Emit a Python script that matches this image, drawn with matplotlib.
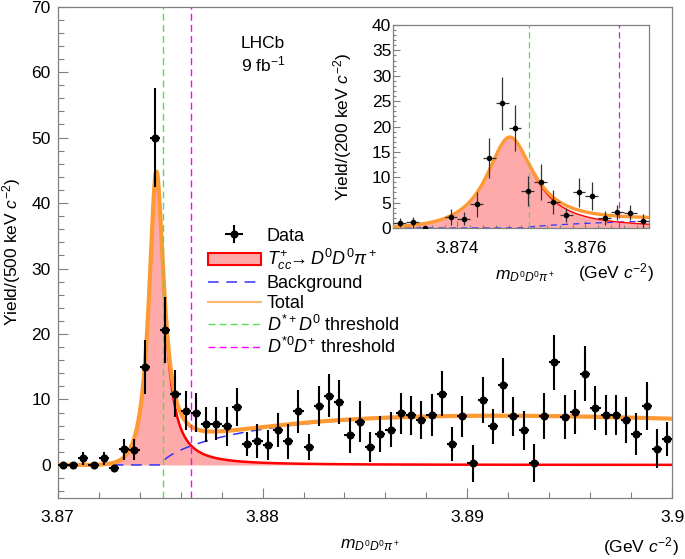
import numpy as np
import matplotlib
matplotlib.use("Agg")
import matplotlib.pyplot as plt
from matplotlib.ticker import MultipleLocator, FixedLocator, FixedFormatter
from matplotlib.patches import Patch
from matplotlib.lines import Line2D

plt.rcParams['font.family'] = ['Liberation Sans', 'DejaVu Sans']
plt.rcParams['mathtext.fontset'] = 'custom'
plt.rcParams['mathtext.rm'] = 'Liberation Sans'
plt.rcParams['mathtext.it'] = 'Liberation Sans:italic'
plt.rcParams['mathtext.bf'] = 'Liberation Sans:bold'
plt.rcParams['font.size'] = 12.5

# ---------------- data ----------------
main_range = (3.870, 3.900)          # GeV, 500 keV bins
main_bin_width = 0.0005
main_yield = [0.0, 0.0, 1.0, 0.0, 1.0, -0.4, 2.4, 2.3, 15.0, 50.0,
              20.6, 10.9, 8.3, 8.0, 6.2, 6.3, 5.9, 8.8, 3.2, 3.6,
              3.0, 5.3, 3.6, 8.2, 2.7, 9.0, 10.6, 9.6, 4.5, 6.6,
              2.8, 4.7, 5.4, 7.9, 7.6, 6.8, 7.6, 10.9, 3.2, 7.4,
              0.25, 9.9, 5.9, 12.2, 7.4, 5.3, 0.25, 7.5, 15.7, 7.3,
              8.1, 13.9, 8.7, 7.6, 7.6, 6.9, 4.7, 9.0, 2.5, 3.9]
main_err = [0.0, 0.0, 1.0, 0.0, 1.0, 0.2, 1.6, 1.6, 4.1, 7.5,
            5.0, 3.6, 3.0, 3.0, 2.7, 2.5, 3.0, 2.9, 1.9, 2.6,
            2.3, 2.6, 2.7, 3.3, 2.0, 3.0, 3.3, 3.4, 2.7, 3.1,
            2.3, 2.7, 2.7, 3.1, 3.0, 2.9, 3.2, 3.4, 2.6, 3.1,
            2.8, 3.5, 2.7, 4.2, 3.0, 3.0, 2.9, 3.5, 4.2, 3.4,
            3.4, 4.2, 3.3, 3.1, 3.1, 3.5, 3.2, 3.7, 3.0, 2.6]

inset_range = (3.873, 3.877)         # GeV, 200 keV bins
inset_bin_width = 0.0002
inset_yield = [1.05, 1.1, 0.0, np.nan, 2.2, 1.8, 4.7, 13.8, 24.6, 19.7,
               7.3, 9.1, 5.1, 2.55, 7.0, 6.3, 1.9, 3.1, 3.0, 1.4]
inset_err = [0.9, 1.0, 0.2, np.nan, 1.6, 1.3, 2.45, 3.9, 5.2, 4.6,
             2.9, 3.5, 2.3, 1.4, 2.9, 2.7, 1.4, 1.5, 1.5, 1.3]

main_xticks = [3.87, 3.88, 3.89, 3.90]
main_xticklabels = ["3.87", "3.88", "3.89", "3.9"]
inset_xticks = [3.874, 3.876]
inset_xticklabels = ["3.874", "3.876"]

# thresholds (GeV)
thr_dstarp_d0 = 3.87512
thr_dstar0_dp = 3.87652

# fit model parameters
peak_mass = 3.87482      # GeV
peak_yield = 44.8        # per 500 keV
peak_gamma = 0.45        # MeV
left_damp = 0.41         # MeV^-2
bkg_threshold = 3.87505  # GeV
bkg_norm = 2.43
bkg_power = 0.622
bkg_slope = 0.0375       # MeV^-1


def signal_shape(m):
    d = (m - peak_mass) * 1000.0
    lor = peak_gamma ** 2 / (peak_gamma ** 2 + d ** 2)
    return np.where(d < 0, lor * np.exp(-left_damp * d ** 2), lor)


def background(m):
    delta = np.clip((m - bkg_threshold) * 1000.0, 0, None)
    return bkg_norm * delta ** bkg_power * np.exp(-bkg_slope * delta)


# ---------------- style ----------------
C_FILL = '#ffaaaa'
C_SIG = '#ff0000'
C_BKG = '#3333ff'
C_TOT = '#ff9933'
C_TOT_LEG = '#ffb870'
C_GREEN = '#55dd55'
C_MAG = '#ff00ff'
C_FRAME = '#808080'
FS = 12.5

fig = plt.figure(figsize=(6.85, 5.59), dpi=100)
ax = fig.add_axes([0.0842, 0.1097, 0.8972, 0.8784])

# main
edges = np.arange(main_range[0], main_range[1] + main_bin_width / 2, main_bin_width)
centers = 0.5 * (edges[:-1] + edges[1:])
xf = np.linspace(main_range[0], main_range[1], 3000)
sig = peak_yield * signal_shape(xf)
bkg = background(xf)

ax.fill_between(xf, 0, sig, color=C_FILL, lw=0, zorder=1)
ax.plot(xf, bkg, color=C_BKG, lw=1.1, ls=(0, (7, 5)), zorder=2)
ax.plot(xf, sig, color=C_SIG, lw=1.8, zorder=2.5)
ax.plot(xf, sig + bkg, color=C_TOT, lw=3.0, zorder=3)
ax.axvline(thr_dstarp_d0, color=C_GREEN, lw=1.0, ls=(0, (5, 3)), zorder=3.5)
ax.axvline(thr_dstar0_dp, color=C_MAG, lw=1.0, ls=(0, (5, 3)), zorder=3.5)
ax.errorbar(centers, main_yield, yerr=main_err, xerr=main_bin_width / 2,
            fmt='o', ms=4.8, color='black', ecolor='black', elinewidth=1.5,
            capsize=0, zorder=5)

ax.set_xlim(*main_range)
ax.set_ylim(-5, 70)
ax.xaxis.set_major_locator(FixedLocator(main_xticks))
ax.xaxis.set_major_formatter(FixedFormatter(main_xticklabels))
ax.xaxis.set_minor_locator(MultipleLocator(0.002))
ax.yaxis.set_major_locator(MultipleLocator(10))
ax.yaxis.set_minor_locator(MultipleLocator(2))
ax.tick_params(which='both', direction='in', color=C_FRAME, top=False, right=False,
               labelsize=FS)
ax.tick_params(which='major', length=7.5, width=0.8)
ax.tick_params(which='minor', length=4.0, width=0.8)
ax.tick_params(axis='x', which='major', pad=9)
ax.tick_params(axis='y', which='major', pad=5)
for sp in ax.spines.values():
    sp.set_color(C_FRAME)
    sp.set_linewidth(0.9)

ax.text(0.334, 0.925, 'LHCb', transform=ax.transAxes, ha='center', va='center', fontsize=FS)
ax.text(0.334, 0.883, r'9 fb$^{-1}$', transform=ax.transAxes, ha='center', va='center', fontsize=FS)

fig.text(12 / 685, 1 - 252 / 559, r'Yield/(500 keV $c^{-2}$)', rotation=90,
         ha='center', va='center', fontsize=FS)
fig.text(370 / 685, 1 - 545 / 559, r'$m_{D^0D^0\pi^+}$', ha='center', va='center', fontsize=FS)
fig.text(679 / 685, 1 - 547 / 559, r'(GeV $c^{-2}$)', ha='right', va='center', fontsize=FS)

# legend
handles = [
    ax.errorbar([], [], yerr=[], xerr=[], fmt='o', ms=4.8, color='black',
                elinewidth=1.5, capsize=0),
    Patch(facecolor=C_FILL, edgecolor=C_SIG, lw=1.5),
    Line2D([], [], color=C_BKG, lw=1.1, ls=(0, (7, 5))),
    Line2D([], [], color=C_TOT_LEG, lw=1.5),
    Line2D([], [], color=C_GREEN, lw=1.0, ls=(0, (5, 3))),
    Line2D([], [], color=C_MAG, lw=1.0, ls=(0, (5, 3))),
]
labels = ['Data', r'$T_{cc}^{+}\!\!\rightarrow D^0D^0\pi^+$', 'Background', 'Total',
          r'$D^{*+}D^0$ threshold', r'$D^{*0}D^{+}$ threshold']
ax.legend(handles, labels, loc='upper left', bbox_to_anchor=(0.245, 0.55),
          frameon=False, fontsize=13, handlelength=2.9, handletextpad=0.35,
          labelspacing=0.15, borderpad=0, borderaxespad=0)

# inset
ax2 = fig.add_axes([0.5742, 0.5921, 0.3737, 0.3631])
ax2.set_facecolor('white')
iedges = np.arange(inset_range[0], inset_range[1] + inset_bin_width / 2, inset_bin_width)
icenters = 0.5 * (iedges[:-1] + iedges[1:])
xi = np.linspace(inset_range[0], inset_range[1], 1500)
scale = inset_bin_width / main_bin_width
isig = scale * peak_yield * signal_shape(xi)
ibkg = scale * background(xi)
ax2.fill_between(xi, 0, isig, color=C_FILL, lw=0, zorder=1)
ax2.plot(xi, ibkg, color=C_BKG, lw=0.9, ls=(0, (5, 4)), zorder=2)
ax2.plot(xi, isig, color=C_SIG, lw=1.0, zorder=2.5)
ax2.plot(xi, isig + ibkg, color=C_TOT, lw=2.4, zorder=3)
ax2.axvline(thr_dstarp_d0, color=C_GREEN, lw=0.9, ls=(0, (5, 3)), zorder=3.5)
ax2.axvline(thr_dstar0_dp, color=C_MAG, lw=0.9, ls=(0, (5, 3)), zorder=3.5)
ax2.errorbar(icenters, inset_yield, yerr=inset_err, xerr=inset_bin_width / 2,
             fmt='o', ms=3, color='black', ecolor='#333333', elinewidth=0.9,
             capsize=0, zorder=5)
ax2.set_xlim(*inset_range)
ax2.set_ylim(0, 40)
ax2.xaxis.set_major_locator(FixedLocator(inset_xticks))
ax2.xaxis.set_major_formatter(FixedFormatter(inset_xticklabels))
ax2.xaxis.set_minor_locator(MultipleLocator(0.0002))
ax2.yaxis.set_major_locator(MultipleLocator(5))
ax2.yaxis.set_minor_locator(MultipleLocator(1))
ax2.tick_params(which='both', direction='in', color=C_FRAME, top=False, right=False,
                labelsize=FS)
ax2.tick_params(which='major', length=5, width=0.8)
ax2.tick_params(which='minor', length=2.5, width=0.8)
ax2.tick_params(axis='x', which='major', pad=9)
ax2.tick_params(axis='y', which='major', pad=1.5)
for sp in ax2.spines.values():
    sp.set_color(C_FRAME)
    sp.set_linewidth(0.9)

fig.text(343 / 685, 1 - 127 / 559, r'Yield/(200 keV $c^{-2}$)', rotation=90,
         ha='center', va='center', fontsize=FS)
fig.text(525 / 685, 1 - 276 / 559, r'$m_{D^0D^0\pi^+}$', ha='center', va='center', fontsize=FS)
fig.text(654 / 685, 1 - 273 / 559, r'(GeV $c^{-2}$)', ha='right', va='center', fontsize=FS)

fig.savefig('out.png', dpi=100)
